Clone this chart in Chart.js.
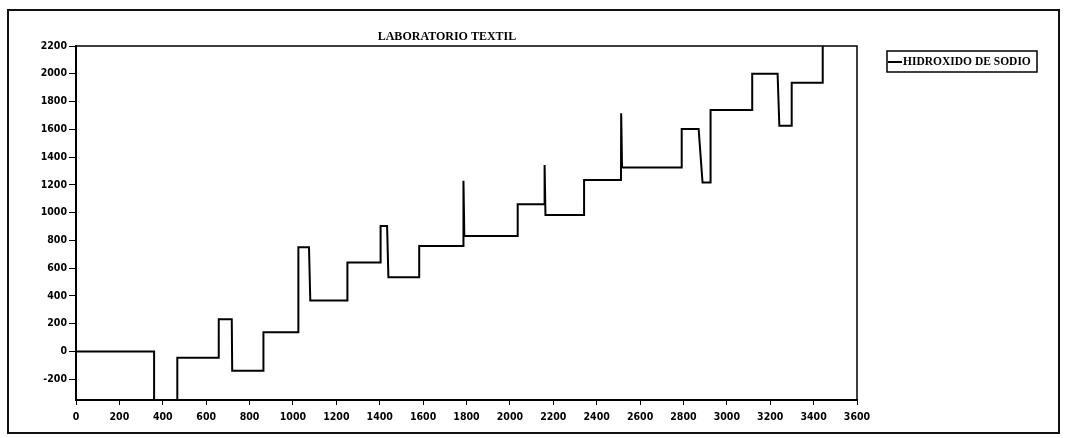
<!DOCTYPE html>
<html>
<head>
<meta charset="utf-8">
<script src="https://cdn.jsdelivr.net/npm/chart.js@4.4.1/dist/chart.umd.min.js"></script>
<style>
  html, body { margin: 0; padding: 0; background: #fff; }
  #wrap { width: 1065px; height: 438px; position: relative; }
</style>
</head>
<body>
<div id="wrap"><canvas id="c" width="1065" height="438"></canvas></div>
<script>
const chartTitle = 'LABORATORIO TEXTIL';
const seriesName = 'HIDROXIDO DE SODIO';
const timeValues = [0, 360, 360, 467, 467, 658, 658, 718, 720, 864, 864, 1025, 1025, 1074, 1080, 1251, 1251, 1404, 1404, 1434, 1440, 1582, 1582, 1785, 1786, 1790, 2036, 2036, 2159, 2160, 2164, 2342, 2342, 2512, 2513, 2517, 2792, 2792, 2870, 2888, 2925, 2925, 3117, 3117, 3234, 3242, 3299, 3299, 3442, 3442];
const naohValues = [0, 0, -420, -420, -45, -45, 232, 232, -140, -140, 138, 138, 750, 750, 366, 366, 640, 640, 904, 904, 534, 534, 760, 760, 1230, 832, 832, 1060, 1060, 1343, 983, 983, 1235, 1235, 1715, 1324, 1324, 1602, 1602, 1216, 1216, 1739, 1739, 2001, 2001, 1626, 1626, 1936, 1936, 2260];
const xTickValues = [0, 200, 400, 600, 800, 1000, 1200, 1400, 1600, 1800, 2000, 2200, 2400, 2600, 2800, 3000, 3200, 3400, 3600];
const yTickValues = [-200, 0, 200, 400, 600, 800, 1000, 1200, 1400, 1600, 1800, 2000, 2200];

const points = timeValues.map((t, i) => ({ x: t, y: naohValues[i] }));
const tickFont = { family: "'DejaVu Sans Condensed', 'DejaVu Sans'", size: 10.5, weight: 'bold' };

const decor = {
  id: 'decor',
  beforeDraw(chart) {
    const ctx = chart.ctx;
    ctx.save();
    ctx.fillStyle = '#fff';
    ctx.fillRect(0, 0, chart.width, chart.height);
    ctx.strokeStyle = '#111';
    ctx.lineWidth = 2;
    ctx.strokeRect(8, 10, 1051, 423);
    ctx.restore();
  },
  afterDraw(chart) {
    const ctx = chart.ctx;
    const a = chart.chartArea;
    ctx.save();
    ctx.strokeStyle = '#000';
    ctx.lineWidth = 1.5;
    ctx.beginPath();
    ctx.moveTo(a.left, a.top);
    ctx.lineTo(a.right, a.top);
    ctx.lineTo(a.right, a.bottom);
    ctx.stroke();
    // title
    ctx.fillStyle = '#000';
    ctx.font = "bold 12px 'Liberation Serif'";
    ctx.textAlign = 'center';
    ctx.textBaseline = 'middle';
    ctx.fillText(chartTitle, 447, 37);
    // legend
    ctx.lineWidth = 1.5;
    ctx.strokeRect(887, 51, 150, 21);
    ctx.lineWidth = 2;
    ctx.beginPath();
    ctx.moveTo(888, 62);
    ctx.lineTo(902, 62);
    ctx.stroke();
    ctx.textAlign = 'left';
    ctx.font = "bold 11.5px 'Liberation Serif'";
    ctx.fillText(seriesName, 903, 62);
    ctx.restore();
  }
};

new Chart(document.getElementById('c'), {
  type: 'line',
  data: {
    datasets: [{
      label: seriesName,
      data: points,
      borderColor: '#000',
      borderWidth: 2,
      pointRadius: 0,
      tension: 0,
      fill: false
    }]
  },
  options: {
    responsive: false,
    animation: false,
    layout: { padding: { left: 0, top: 46, right: 208, bottom: 0 } },
    plugins: { legend: { display: false }, title: { display: false }, tooltip: { enabled: false } },
    scales: {
      x: {
        type: 'linear',
        min: 0, max: 3600,
        afterBuildTicks(axis) { axis.ticks = xTickValues.map(v => ({ value: v })); },
        afterFit(axis) { axis.height = 38; },
        border: { display: true, color: '#000', width: 2 },
        grid: { display: true, drawOnChartArea: false, drawTicks: true, tickLength: 5, tickColor: '#000', tickWidth: 1 },
        ticks: { color: '#000', font: tickFont, maxRotation: 0, autoSkip: false, padding: 6, callback: v => String(v) }
      },
      y: {
        type: 'linear',
        min: -350, max: 2200,
        afterBuildTicks(axis) { axis.ticks = yTickValues.map(v => ({ value: v })); },
        afterFit(axis) { axis.width = 76; },
        border: { display: true, color: '#000', width: 2 },
        grid: { display: true, drawOnChartArea: false, drawTicks: true, tickLength: 7, tickColor: '#000', tickWidth: 1 },
        ticks: { color: '#000', font: tickFont, padding: 2, callback: v => String(v) }
      }
    }
  },
  plugins: [decor]
});
</script>
</body>
</html>
